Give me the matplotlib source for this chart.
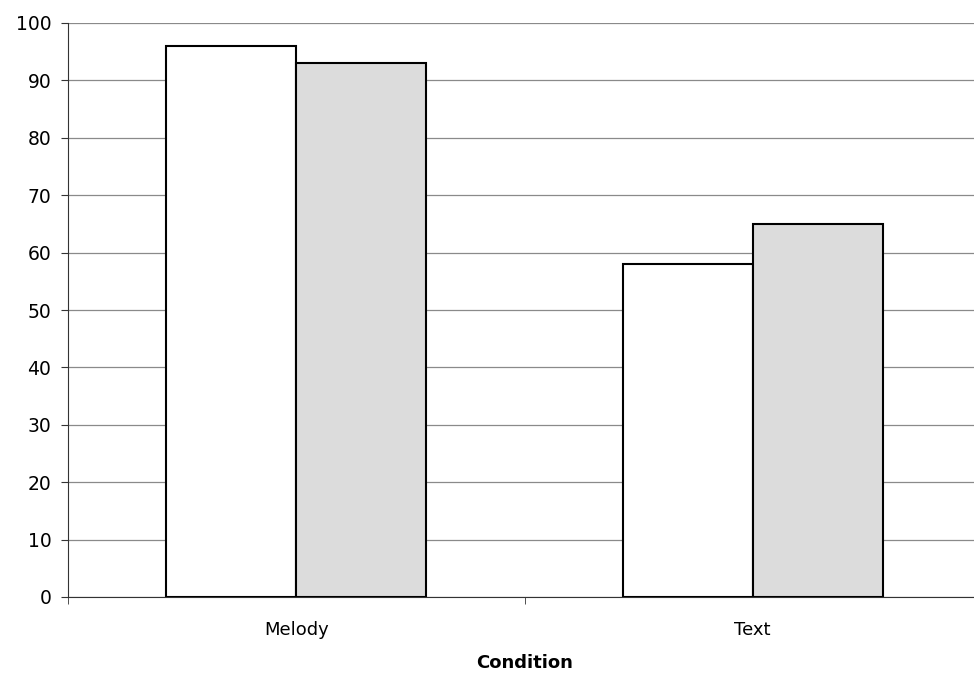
import matplotlib.pyplot as plt
import numpy as np

conditions = ["Melody", "Text"]
series_a = [96, 58]   # white bars
series_b = [93, 65]   # grey bars
y_ticks = list(range(0, 101, 10))

fig = plt.figure(figsize=(9.74, 6.81), dpi=100)
# axes runs a bit past the right edge of the picture, as in the original
ax = fig.add_axes([68 / 974, 84 / 681, 913 / 974, 574 / 681])

x = np.arange(len(conditions))
w = 0.285
ax.bar(x - w / 2, series_a, w, color="white", edgecolor="black", linewidth=1.5, zorder=3)
ax.bar(x + w / 2, series_b, w, color="#dcdcdc", edgecolor="black", linewidth=1.5, zorder=3)

ax.set_xlim(-0.5, 1.5)
ax.set_ylim(0, 100)
ax.set_yticks(y_ticks)
ax.yaxis.grid(True, color="#8a8a8a", linewidth=0.9, zorder=0)

ax.set_xticks(x)
ax.set_xticklabels(conditions)
ax.tick_params(axis="x", length=0, pad=17, labelsize=13)
ax.set_xticks([-0.5, 0.5, 1.5], minor=True)
ax.tick_params(axis="x", which="minor", length=5, color="#333333")
ax.tick_params(axis="y", length=5, pad=7, labelsize=13.5, color="#333333")

for side in ["top", "right"]:
    ax.spines[side].set_visible(False)
ax.spines["left"].set_color("#333333")
ax.spines["bottom"].set_color("#333333")

ax.set_xlabel("Condition", fontsize=13, fontweight="bold", labelpad=11)

fig.savefig("out.png", dpi=100)
